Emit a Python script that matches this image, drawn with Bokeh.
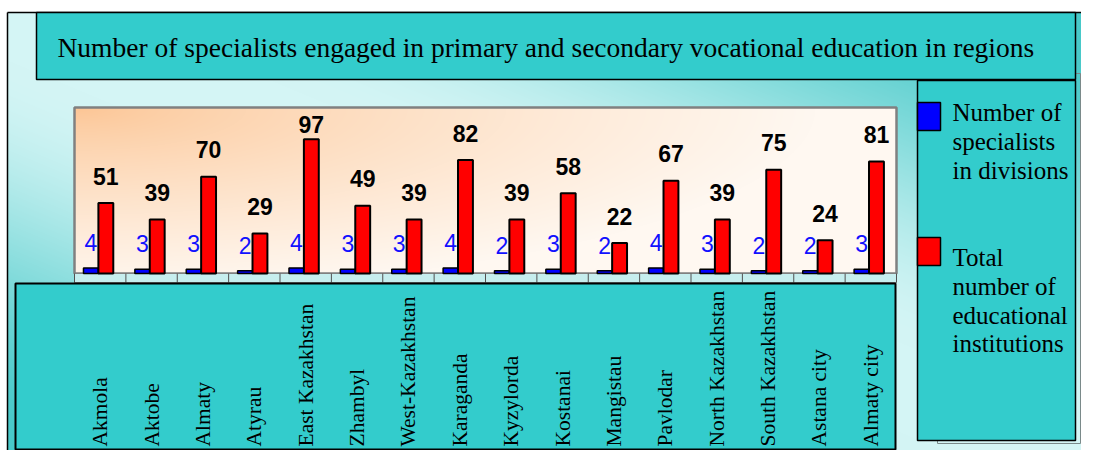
import numpy as np
from bokeh.plotting import figure
from bokeh.models import Range1d
from bokeh.core.properties import value
from bokeh.embed import file_html
from bokeh.resources import INLINE

# ---------------- data ----------------
title_text = "Number of specialists engaged in primary and secondary vocational education in regions"
regions = ["Akmola", "Aktobe", "Almaty", "Atyrau", "East Kazakhstan", "Zhambyl",
           "West-Kazakhstan", "Karaganda", "Kyzylorda", "Kostanai", "Mangistau",
           "Pavlodar", "North  Kazakhstan", "South  Kazakhstan", "Astana city", "Almaty city"]
specialists = [4, 3, 3, 2, 4, 3, 3, 4, 2, 3, 2, 4, 3, 2, 2, 3]
institutions = [51, 39, 70, 29, 97, 49, 39, 82, 39, 58, 22, 67, 39, 75, 24, 81]
series_lines = [["Number of", "specialists", "in divisions"],
                ["Total", "number of", "educational", "institutions"]]
series_colors = ["#0000ff", "#ff0000"]

# ---------------- layout constants (canvas px, top-down) ----------------
W, H = 1081, 450
PL, PR, PT, PB = 74, 896, 107, 273      # plot area
Y_TOP = 120                             # value at top of plot area
TEAL = "#33cccc"
SERIF = value("Liberation Serif")
SANS = value("Liberation Sans")


def Y(t):
    return H - t


p = figure(width=W, height=H, x_range=Range1d(0, W), y_range=Range1d(0, H),
           output_backend="svg", toolbar_location=None, min_border=0,
           x_axis_type=None, y_axis_type=None, outline_line_color=None,
           background_fill_color="white", border_fill_color="white")
p.grid.visible = False

n = len(regions)
ppu = (PR - PL) / n
ppv = (PB - PT) / Y_TOP
p.extra_x_ranges = {"cat": Range1d(-0.5 - PL / ppu, n - 0.5 + (W - PR) / ppu)}
p.extra_y_ranges = {"val": Range1d(-(H - PB) / ppv, Y_TOP + PT / ppv)}


def rect(x0, y0, x1, y1, **kw):
    p.quad(left=x0, right=x1, top=Y(y0), bottom=Y(y1), **kw)


def rgba_image(r, g, b):
    h, w = r.shape
    img = np.empty((h, w), dtype=np.uint32)
    v = img.view(dtype=np.uint8).reshape((h, w, 4))
    v[:, :, 0] = np.clip(r, 0, 255)
    v[:, :, 1] = np.clip(g, 0, 255)
    v[:, :, 2] = np.clip(b, 0, 255)
    v[:, :, 3] = 255
    return np.flipud(img)


# ---------------- outer background gradient ----------------
OX, OY = 7, 12
hh, ww = H - OY, W - OX
ys = np.arange(hh)[:, None].astype(float)
xs = np.arange(ww)[None, :].astype(float)
u = (xs + OX) / 1090.0
vv = ys / 454.0
t = np.abs(u - vv)
s = np.clip((t - 0.1) / 0.85, 0, 1)
s = s * s * (3 - 2 * s)
light = np.array([212, 245, 245], float)
dark = np.array([72, 201, 201], float)
bg = rgba_image(light[0] + (dark[0] - light[0]) * s,
                light[1] + (dark[1] - light[1]) * s,
                light[2] + (dark[2] - light[2]) * s)
p.image_rgba(image=[bg], x=OX, y=0, dw=ww, dh=hh)
p.segment(x0=OX, y0=Y(OY), x1=W, y1=Y(OY), line_color="black", line_width=1.5)
p.segment(x0=OX, y0=Y(OY), x1=OX, y1=0, line_color="black", line_width=1.5)

# ---------------- legend shadow + title box ----------------
rect(937, 73, 1080, 443, fill_color=None, line_color="#7a8a8a", line_width=1)
rect(36, OY, 1075, 79, fill_color=TEAL, line_color="black", line_width=1.5)
p.text(x=[57], y=[Y(47)], text=[title_text], text_baseline="alphabetic", text_align="left",
       text_font=SERIF, text_font_size="27.5px", text_color="black")

# ---------------- legend box ----------------
rect(917, 80, 1075, 440, fill_color=TEAL, line_color="black", line_width=1.5)
item_tops = [102, 237]
item_baselines = [112, 257]
for k in range(2):
    rect(917, item_tops[k], 940, item_tops[k] + 28, fill_color=series_colors[k],
         line_color="black", line_width=1.5)
    lines = series_lines[k]
    p.text(x=[952] * len(lines), y=[Y(item_baselines[k] + 28.8 * j) for j in range(len(lines))],
           text=lines, text_baseline="alphabetic", text_align="left",
           text_font=SERIF, text_font_size="25px", text_color="black")

# ---------------- plot area gradient ----------------
ph, pw = PB - PT, PR - PL
a = np.arange(pw)[None, :] / pw
b = np.arange(ph)[:, None] / ph
d = np.clip(np.sqrt((a / 0.9) ** 2 + (b / 1.1) ** 2), 0, 1) ** 0.75
o0 = np.array([252, 197, 148], float)
o1 = np.array([255, 248, 241], float)
pa = rgba_image(o0[0] + (o1[0] - o0[0]) * d, o0[1] + (o1[1] - o0[1]) * d, o0[2] + (o1[2] - o0[2]) * d)
p.image_rgba(image=[pa], x=PL, y=Y(PB), dw=pw, dh=ph)
rect(PL, PT, PR, PB, fill_color=None, line_color="#808080", line_width=2.5)

# floor band with category separators
rect(PL, PB, PR, PB + 9, fill_color="#c6eeee", line_color="#808080", line_width=1)
idx = np.arange(n)
bounds = np.arange(n + 1) - 0.5
p.segment(x0=bounds, y0=Y(PB), x1=bounds, y1=Y(PB + 9), x_range_name="cat",
          line_color="#505050", line_width=1)

# ---------------- category label box ----------------
rect(15, 283, 895, 449, fill_color=TEAL, line_color="black", line_width=2)
p.text(x=idx, y=Y(446), text=regions, angle=np.pi / 2, x_range_name="cat",
       text_align="left", text_baseline="middle", text_font=SERIF,
       text_font_size="21.5px", text_color="black")

# ---------------- bars ----------------
BW = 0.29
p.vbar(x=idx - 0.18, bottom=0, top=specialists, width=BW, x_range_name="cat", y_range_name="val",
       fill_color=series_colors[0], line_color="black", line_width=1.5)
p.vbar(x=idx + 0.11, bottom=0, top=institutions, width=BW, x_range_name="cat", y_range_name="val",
       fill_color=series_colors[1], line_color="black", line_width=2)

# value labels
inst = np.array(institutions, float)
spec = np.array(specialists, float)
p.text(x=idx + 0.11, y=np.minimum(inst + 19.4, 107.7), text=[str(v) for v in institutions],
       x_range_name="cat", y_range_name="val", text_align="center", text_baseline="middle",
       text_font=SANS, text_font_style="bold", text_font_size="23px", text_color="black")
p.text(x=idx - 0.18, y=spec + 18.5, text=[str(v) for v in specialists],
       x_range_name="cat", y_range_name="val", text_align="center", text_baseline="middle",
       text_font=SANS, text_font_size="23px", text_color="#1010ff")

open("out.html", "w").write(file_html(p, INLINE))
